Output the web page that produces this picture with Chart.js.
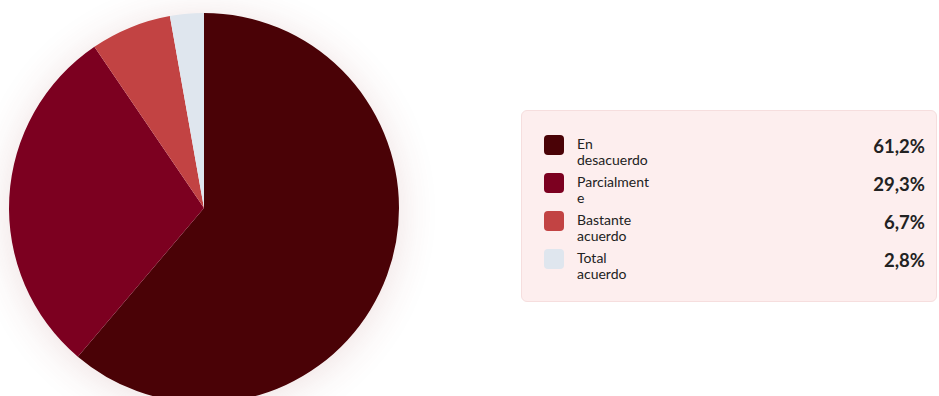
<!DOCTYPE html>
<html>
<head>
<meta charset="utf-8">
<script src="https://cdn.jsdelivr.net/npm/chart.js@4/dist/chart.umd.min.js"></script>
<style>
  html, body { margin: 0; padding: 0; background: #fff; }
  body { width: 939px; height: 396px; overflow: hidden; position: relative; font-family: Lato, "Noto Sans", sans-serif; }
  #pieWrap { position: absolute; left: 0; top: 0; width: 450px; height: 450px; }
  #legendBox {
    position: absolute; left: 521px; top: 110px; width: 416px; height: 192px;
    box-sizing: border-box; background: #fdeeee; border: 1px solid #f6dede; border-radius: 6px;
    padding: 23px 11px 0 22px;
  }
  .row { display: flex; align-items: flex-start; height: 38px; }
  .swatch { width: 20px; height: 20px; border-radius: 4px; margin-top: 1px; flex: none; }
  .name { margin-left: 13px; margin-top: 2px; width: 75px; font-size: 14px; line-height: 16px; color: #222; overflow-wrap: anywhere; }
  .pct { margin-left: auto; margin-top: 2px; font-size: 18.5px; font-weight: bold; color: #222; line-height: 20px; }
</style>
</head>
<body>
<div id="pieWrap"><canvas id="pieChart"></canvas></div>
<div id="legendBox"></div>
<script>
const categories = ['En desacuerdo', 'Parcialmente', 'Bastante acuerdo', 'Total acuerdo'];
const shares = [61.2, 29.3, 6.7, 2.8];
const sliceColors = ['#4a0206', '#7c0020', '#c24343', '#dfe6ee'];

// soft glow behind the pie
const pieGlow = {
  id: 'pieGlow',
  beforeDatasetsDraw(chart) {
    const arc = chart.getDatasetMeta(0).data[0];
    if (!arc) return;
    const ctx = chart.ctx;
    ctx.save();
    ctx.shadowColor = 'rgba(140, 50, 50, 0.16)';
    ctx.shadowBlur = 40;
    ctx.shadowOffsetY = 4;
    ctx.fillStyle = '#fff';
    ctx.beginPath();
    ctx.arc(arc.x, arc.y, arc.outerRadius - 1, 0, Math.PI * 2);
    ctx.fill();
    ctx.restore();
  }
};

const chart = new Chart(document.getElementById('pieChart'), {
  type: 'pie',
  data: {
    labels: categories,
    datasets: [{
      data: shares,
      backgroundColor: sliceColors,
      borderWidth: 0
    }]
  },
  options: {
    responsive: true,
    maintainAspectRatio: false,
    animation: false,
    layout: { padding: { left: 9, top: 13, right: 51, bottom: 47 } },
    plugins: {
      legend: { display: false },
      tooltip: { enabled: false }
    }
  },
  plugins: [pieGlow]
});

// html legend built from the chart data
const box = document.getElementById('legendBox');
chart.data.labels.forEach((label, i) => {
  const row = document.createElement('div');
  row.className = 'row';
  const value = chart.data.datasets[0].data[i];
  row.innerHTML = '<div class="swatch" style="background:' + sliceColors[i] + '"></div>' +
    '<div class="name">' + label + '</div>' +
    '<div class="pct">' + value.toFixed(1).replace('.', ',') + '%</div>';
  box.appendChild(row);
});
</script>
</body>
</html>
